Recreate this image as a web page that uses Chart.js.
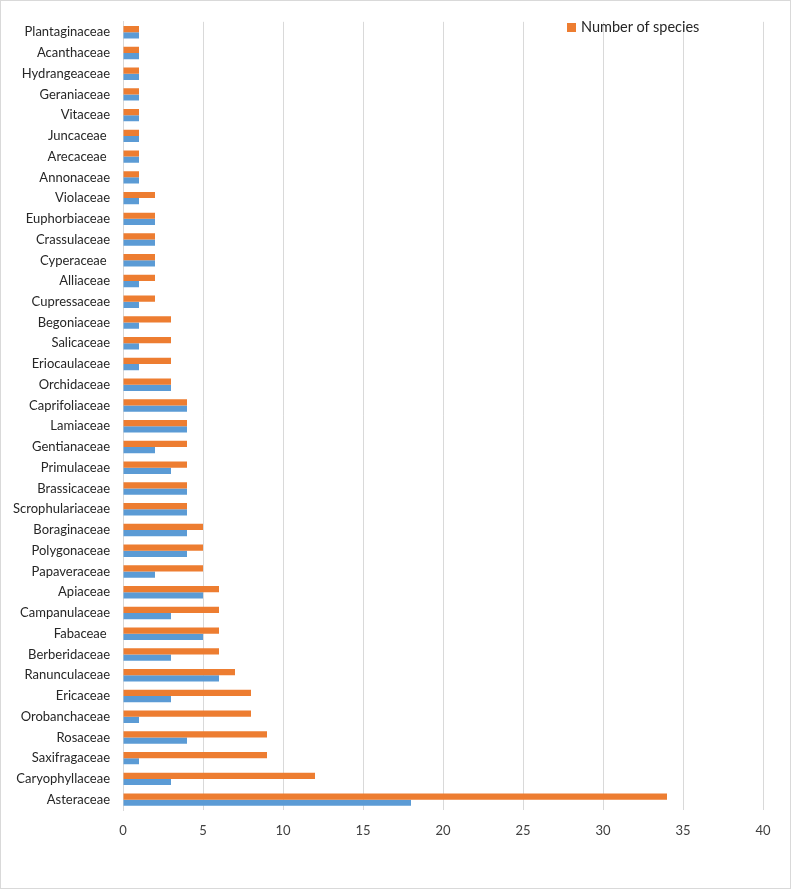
<!DOCTYPE html>
<html>
<head>
<meta charset="utf-8">
<title>Families</title>
<script src="https://cdn.jsdelivr.net/npm/chart.js@4.4.1/dist/chart.umd.min.js"></script>
<style>
    body { margin: 0; background: #fff; }
    #wrap {
        position: relative;
        width: 791px;
        height: 889px;
        box-sizing: border-box;
        border: 1px solid #d9d9d9;
    }
    #familyChart { display: block; }
    .legend {
        position: absolute;
        left: 566px;
        top: 17px;
        font-family: Lato, sans-serif;
        font-size: 14.5px;
        color: #262626;
    }
    .legend span.box {
        display: inline-block;
        width: 9px;
        height: 9px;
        background: #ed7d31;
        margin-right: 5px;
    }
</style>
</head>
<body>
<div id="wrap">
    <canvas id="familyChart" width="789" height="887"></canvas>
    <div class="legend"><span class="box"></span>Number of species</div>
</div>
<script>
// Families, listed top to bottom as in the chart
const families = [
    "Plantaginaceae", "Acanthaceae", "Hydrangeaceae", "Geraniaceae", "Vitaceae",
    "Juncaceae ", "Arecaceae ", "Annonaceae", "Violaceae", "Euphorbiaceae",
    "Crassulaceae", "Cyperaceae ", "Alliaceae", "Cupressaceae", "Begoniaceae",
    "Salicaceae", "Eriocaulaceae", "Orchidaceae", "Caprifoliaceae", "Lamiaceae",
    "Gentianaceae", "Primulaceae", "Brassicaceae", "Scrophulariaceae", "Boraginaceae",
    "Polygonaceae", "Papaveraceae", "Apiaceae", "Campanulaceae", "Fabaceae ",
    "Berberidaceae", "Ranunculaceae", "Ericaceae", "Orobanchaceae", "Rosaceae",
    "Saxifragaceae", "Caryophyllaceae", "Asteraceae"
];

// Orange series
const speciesCounts = [
    1, 1, 1, 1, 1, 1, 1, 1, 2, 2,
    2, 2, 2, 2, 3, 3, 3, 3, 4, 4,
    4, 4, 4, 4, 5, 5, 5, 6, 6, 6,
    6, 7, 8, 8, 9, 9, 12, 34
];

// Blue series (not shown in legend)
const genusCounts = [
    1, 1, 1, 1, 1, 1, 1, 1, 1, 2,
    2, 2, 1, 1, 1, 1, 1, 3, 4, 4,
    2, 3, 4, 4, 4, 4, 2, 5, 3, 5,
    3, 6, 3, 1, 4, 1, 3, 18
];

const xTicks = [0, 5, 10, 15, 20, 25, 30, 35, 40];

const ctx = document.getElementById("familyChart").getContext("2d");

new Chart(ctx, {
    type: "bar",
    data: {
        labels: families,
        datasets: [
            {
                label: "Number of species",
                data: speciesCounts,
                backgroundColor: "#ed7d31",
                categoryPercentage: 0.6,
                barPercentage: 1
            },
            {
                label: "Number of genera",
                data: genusCounts,
                backgroundColor: "#5b9bd5",
                categoryPercentage: 0.6,
                barPercentage: 1
            }
        ]
    },
    options: {
        indexAxis: "y",
        responsive: false,
        animation: false,
        layout: {
            padding: { left: 0, right: 27, top: 19, bottom: 48 }
        },
        plugins: {
            legend: { display: false },
            tooltip: { enabled: false }
        },
        scales: {
            x: {
                min: 0,
                max: 40,
                afterBuildTicks: (scale) => {
                    scale.ticks = xTicks.map(v => ({ value: v }));
                },
                afterFit: (scale) => { scale.height = 30; },
                grid: { color: "#d9d9d9", drawTicks: false, lineWidth: 1 },
                border: { display: false },
                ticks: {
                    padding: 13,
                    color: "#404040",
                    font: { family: "Lato, sans-serif", size: 13 }
                }
            },
            y: {
                afterFit: (scale) => { scale.width = 122; },
                grid: { display: false, drawTicks: false },
                border: { display: true, color: "#d9d9d9" },
                ticks: {
                    autoSkip: false,
                    padding: 13,
                    color: "#262626",
                    font: { family: "Lato, sans-serif", size: 13 }
                }
            }
        }
    }
});
</script>
</body>
</html>
